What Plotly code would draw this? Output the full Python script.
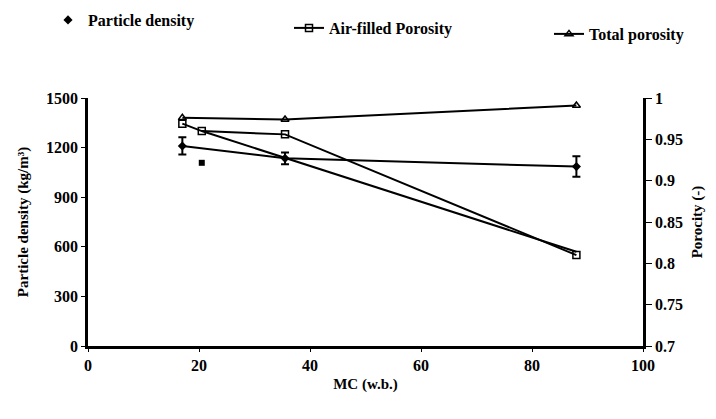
import plotly.graph_objects as go

# Data
mc_pd = [17, 35.5, 88]
particle_density = [1210, 1135, 1085]
pd_err = [52, 36, 62]

mc_pd_extra = [20.5]
pd_extra = [1108]

mc_af = [17, 20.5, 35.5, 88]
air_filled = [0.969, 0.960, 0.956, 0.810]

mc_af2 = [20.5, 88]
air_filled2 = [0.960, 0.814]

mc_tp = [17, 35.5, 88]
total_porosity = [0.976, 0.974, 0.991]

x_ticks = [0, 20, 40, 60, 80, 100]
y1_ticks = [0, 300, 600, 900, 1200, 1500]
y2_ticks = [0.7, 0.75, 0.8, 0.85, 0.9, 0.95, 1]

FONT = "Liberation Serif"
W, H = 708, 411  # page body has an 8px margin

fig = go.Figure()

fig.add_trace(go.Scatter(
    x=mc_pd, y=particle_density, mode="lines+markers",
    line=dict(color="black", width=2),
    marker=dict(symbol="diamond", size=7, color="black"),
    error_y=dict(type="data", array=pd_err, color="black", thickness=2, width=4),
    showlegend=False, yaxis="y"))
fig.add_trace(go.Scatter(
    x=mc_pd_extra, y=pd_extra, mode="markers",
    marker=dict(symbol="square", size=6, color="black"),
    showlegend=False, yaxis="y"))
fig.add_trace(go.Scatter(
    x=[None], y=[None], mode="markers", name="Particle density",
    marker=dict(symbol="diamond", size=7, color="black"),
    legend="legend", yaxis="y"))

fig.add_trace(go.Scatter(
    x=mc_af2, y=air_filled2, mode="lines",
    line=dict(color="black", width=2), showlegend=False, yaxis="y2"))
fig.add_trace(go.Scatter(
    x=mc_af, y=air_filled, mode="lines+markers", name="Air-filled Porosity",
    line=dict(color="black", width=2),
    marker=dict(symbol="square-open", size=7, color="black", line=dict(width=1.5)),
    legend="legend2", yaxis="y2"))
fig.add_trace(go.Scatter(
    x=mc_tp, y=total_porosity, mode="lines+markers", name="Total porosity",
    line=dict(color="black", width=2),
    marker=dict(symbol="triangle-up-open", size=7, color="black", line=dict(width=1.5)),
    legend="legend3", yaxis="y2"))

legend_common = dict(orientation="h", xref="container", yref="container",
                     xanchor="left", yanchor="middle", bgcolor="rgba(0,0,0,0)",
                     font=dict(family=FONT, size=16, color="black", weight="bold"))

fig.update_layout(
    width=W, height=H,
    margin=dict(l=80, r=73, t=90, b=73),
    paper_bgcolor="white", plot_bgcolor="white",
    font=dict(family=FONT, size=16, color="black", weight="bold"),
    xaxis=dict(range=[0, 100], tickvals=x_ticks, showgrid=False, zeroline=False,
               showline=True, linecolor="black", linewidth=2.5,
               ticks="outside", ticklen=3, tickcolor="black",
               title=dict(text="MC (w.b.)", standoff=6, font=dict(size=15))),
    yaxis=dict(range=[0, 1500], tickvals=y1_ticks, showgrid=False, zeroline=False,
               showline=True, linecolor="black", linewidth=2.5,
               ticks="outside", ticklen=4, tickcolor="black",
               title=dict(text="Particle density (kg/m³)", standoff=14, font=dict(size=15))),
    yaxis2=dict(range=[0.7, 1], tickvals=y2_ticks, overlaying="y", side="right",
                showgrid=False, zeroline=False,
                showline=True, linecolor="black", linewidth=2.5,
                ticks="outside", ticklen=6, tickcolor="black",
                title=dict(text="Porocity (-)", standoff=10, font=dict(size=15))),
    legend=dict(x=40/W, y=1 - 12/H, **legend_common),
    legend2=dict(x=281/W, y=1 - 20/H, **legend_common),
    legend3=dict(x=541/W, y=1 - 26/H, **legend_common),
)

fig.write_html("out.html")
